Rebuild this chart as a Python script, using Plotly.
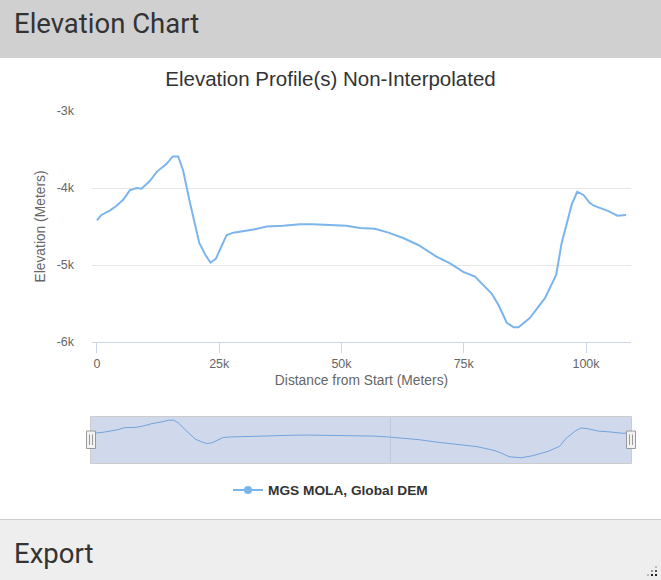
import plotly.graph_objects as go

# ---------------- data ----------------
distance_m = [0, 900, 2700, 4000, 5400, 6700, 8100, 9100, 10800, 12200, 14200, 15500,
              16600, 17600, 18900, 20000, 20900, 22100, 23200, 24300, 25300, 26500,
              27900, 32000, 34700, 38100, 41500, 44200, 47600, 51000, 53800, 56800,
              59600, 62600, 65700, 69400, 72200, 74900, 77300, 80700, 82100, 83800,
              85200, 86200, 88500, 91600, 93900, 95000, 97100, 98200, 99500, 100700,
              101600, 104600, 106400, 108200]
elevation_m = [-4420, -4350, -4290, -4230, -4150, -4030, -4000, -4010, -3910, -3790, -3690, -3590,
               -3590, -3770, -4160, -4460, -4710, -4860, -4970, -4920, -4780, -4610,
               -4580, -4540, -4500, -4490, -4470, -4470, -4480, -4490, -4520, -4530,
               -4580, -4650, -4740, -4890, -4980, -5090, -5150, -5370, -5520, -5750,
               -5810, -5810, -5690, -5430, -5130, -4720, -4210, -4050, -4090, -4190,
               -4230, -4300, -4360, -4350]
series_name = "MGS MOLA, Global DEM"

x_tick_vals = [0, 25000, 50000, 75000, 100000]
x_tick_text = ["0", "25k", "50k", "75k", "100k"]
y_tick_vals = [-6000, -5000, -4000, -3000]
y_tick_text = ["-6k", "-5k", "-4k", "-3k"]
nav_grid_vals = [60000]

W, H = 661, 580
def PX(px):
    return px / W
def PY(py):
    return 1 - py / H

LINE = "#7cb5ec"
FONT = "Liberation Sans, Arial, sans-serif"

fig = go.Figure()

# main series
fig.add_trace(go.Scatter(x=distance_m, y=elevation_m, mode="lines", name=series_name,
                         line=dict(color=LINE, width=2), showlegend=False,
                         xaxis="x", yaxis="y", hoverinfo="x+y"))
# navigator series
fig.add_trace(go.Scatter(x=distance_m, y=elevation_m, mode="lines", name=series_name,
                         line=dict(color="#72a3dc", width=1), showlegend=False,
                         xaxis="x2", yaxis="y2", hoverinfo="skip"))
# legend entry
fig.add_trace(go.Scatter(x=[None], y=[None], mode="lines+markers", name=series_name,
                         line=dict(color=LINE, width=2),
                         marker=dict(color=LINE, size=8, symbol="circle"),
                         showlegend=True, xaxis="x", yaxis="y"))

shapes = []
# header band
shapes.append(dict(type="rect", xref="paper", yref="paper", x0=0, x1=1, y0=PY(58), y1=1,
                   fillcolor="#d0d0d0", line=dict(width=0), layer="below"))
# footer band
shapes.append(dict(type="rect", xref="paper", yref="paper", x0=0, x1=1, y0=0, y1=PY(519.5),
                   fillcolor="#eeeeee", line=dict(width=0), layer="below"))
shapes.append(dict(type="line", xref="paper", yref="paper", x0=0, x1=1, y0=PY(519.5), y1=PY(519.5),
                   line=dict(color="#cccccc", width=1)))
# navigator mask
shapes.append(dict(type="rect", xref="paper", yref="paper", x0=PX(90.5), x1=PX(631.5),
                   y0=PY(463.5), y1=PY(416.5), fillcolor="#d0d9ec",
                   line=dict(color="#cccccc", width=1), layer="below"))
for gv in nav_grid_vals:
    shapes.append(dict(type="line", xref="x2", yref="paper", x0=gv, x1=gv,
                       y0=PY(463), y1=PY(417), line=dict(color="#bfc8d8", width=1), layer="below"))
# navigator handles
for cx in (91, 631):
    shapes.append(dict(type="rect", xref="paper", yref="paper", x0=PX(cx - 4.5), x1=PX(cx + 4.5),
                       y0=PY(448.5), y1=PY(431), fillcolor="#f2f2f2",
                       line=dict(color="#999999", width=1)))
    for dx in (-1.5, 1.5):
        shapes.append(dict(type="line", xref="paper", yref="paper", x0=PX(cx + dx), x1=PX(cx + dx),
                           y0=PY(445), y1=PY(434.5), line=dict(color="#999999", width=1)))
# resize grip dots (bottom right)
for (gx, gy, c) in [(652, 575, "#222"), (656, 575, "#222"), (656, 571, "#555"),
                    (648, 575, "#bbb"), (652, 571, "#999"), (656, 567, "#bbb")]:
    shapes.append(dict(type="rect", xref="paper", yref="paper", x0=PX(gx - 1), x1=PX(gx + 1),
                       y0=PY(gy + 1), y1=PY(gy - 1), fillcolor=c, line=dict(width=0)))

annotations = [
    dict(text="Elevation Chart", xref="paper", yref="paper", x=PX(12), y=PY(23),
         xanchor="left", yanchor="middle", showarrow=False,
         font=dict(family="Roboto, sans-serif", size=27.5, color="#333333")),
    dict(text="Export", xref="paper", yref="paper", x=PX(12), y=PY(553),
         xanchor="left", yanchor="middle", showarrow=False,
         font=dict(family="Roboto, sans-serif", size=27.5, color="#333333")),
]

fig.update_layout(
    width=W, height=H,
    margin=dict(l=0, r=0, t=0, b=0, pad=0),
    paper_bgcolor="white", plot_bgcolor="rgba(0,0,0,0)",
    font=dict(family=FONT, color="#666666", size=12.5),
    title=dict(text="Elevation Profile(s) Non-Interpolated", x=0.5, xanchor="center",
               y=PY(79), yanchor="middle", yref="paper",
               font=dict(family=FONT, size=20.5, color="#333333")),
    xaxis=dict(domain=[PX(92), PX(631)], range=[-1020, 109200], anchor="y",
               tickvals=x_tick_vals, ticktext=x_tick_text, ticks="outside", ticklen=10,
               tickcolor="#ccd6eb", tickwidth=1, showline=True, linecolor="#ccd6eb",
               linewidth=1, showgrid=False, zeroline=False, automargin=False,
               tickfont=dict(size=12.5, color="#666666"),
               title=dict(text="Distance from Start (Meters)", standoff=5,
                          font=dict(size=13.8, color="#666666"))),
    yaxis=dict(domain=[PY(342), PY(111)], range=[-6000, -3000], anchor="x",
               tickvals=y_tick_vals, ticktext=y_tick_text, ticks="",
               showgrid=True, gridcolor="#e6e6e6", gridwidth=1, zeroline=False,
               showline=False, automargin=False, ticklabelstandoff=17,
               tickfont=dict(size=12.5, color="#666666"),
               title=dict(text="Elevation (Meters)", standoff=7,
                          font=dict(size=13.8, color="#666666"))),
    xaxis2=dict(domain=[PX(91), PX(631)], range=[0, 108200], anchor="y2",
                visible=False, fixedrange=True),
    yaxis2=dict(domain=[PY(463), PY(417)], range=[-6120, -3400], anchor="x2",
                visible=False, fixedrange=True),
    showlegend=True,
    legend=dict(orientation="h", x=0.5, xanchor="center", y=PY(490), yanchor="middle",
                font=dict(family=FONT, size=13.7, color="#333333", weight="bold"),
                bgcolor="rgba(0,0,0,0)", itemwidth=30),
    shapes=shapes,
    annotations=annotations,
)

fig.write_html("out.html", config={"displayModeBar": False},
               post_script="document.body.style.margin='0';document.body.style.overflow='hidden';")
